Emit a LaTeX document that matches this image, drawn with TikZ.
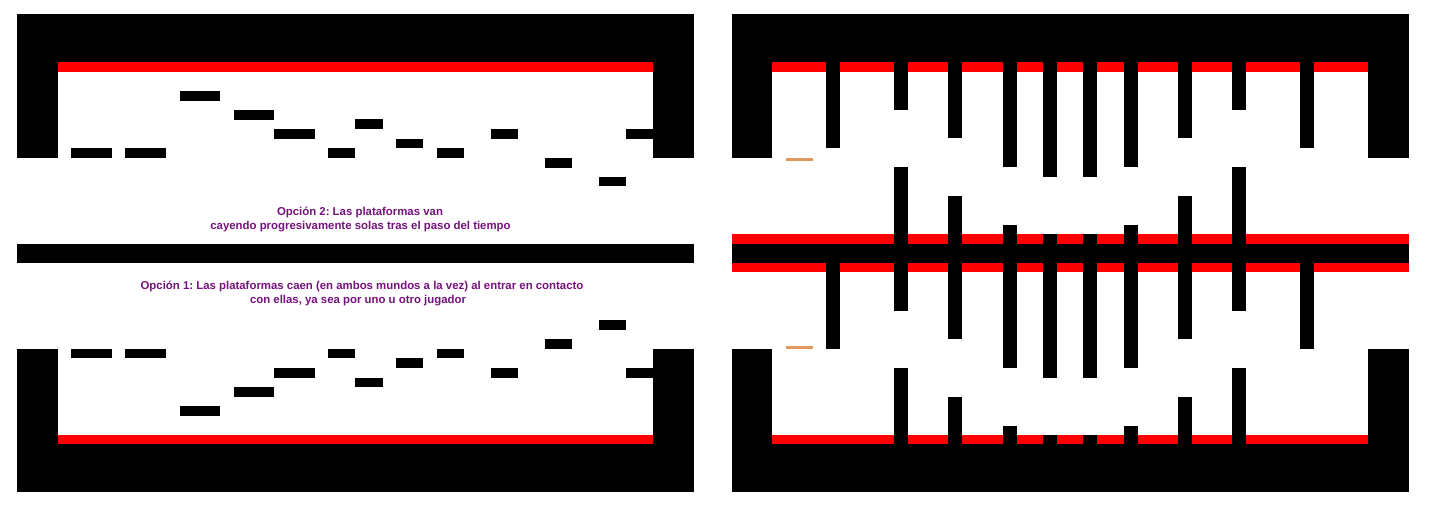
\documentclass[tikz,border=0pt]{standalone}
\usepackage{fontspec}
\setmainfont{Liberation Sans}
\frenchspacing
\definecolor{lblred}{RGB}{255,0,0}
\definecolor{txtpurple}{RGB}{118,18,126}
\definecolor{dashorange}{RGB}{224,153,90}
\tikzset{
  wall/.style={fill=black},
  redline/.style={fill=lblred},
  caption/.style={text=txtpurple, font=\fontsize{11.4}{14}\selectfont\bfseries, inner sep=0pt, anchor=base},
  marker/.style={fill=dashorange}
}
\begin{document}
\begin{tikzpicture}[x=1pt,y=-1pt]
\useasboundingbox (0,0) rectangle (1430,508);
\fill[white] (0,0) rectangle (1430,508);
% ================= LEFT: top panel =================
\fill[wall] (17,14) rectangle (694,62);
\fill[wall] (17,14) rectangle (58,158);
\fill[wall] (653,14) rectangle (694,158);
\fill[redline] (58,62) rectangle (653,72);
% platforms top
\foreach \xa/\xb/\ya/\yb in {71/112/148/158, 125/166/148/158, 180/220/91/101, 234/274/110/120,
  274/315/129/139, 328/355/148/158, 355/383/119/129, 396/423/139/148, 437/464/148/158,
  491/518/129/139, 545/572/158/168, 599/626/177/186, 626/653/129/139}
  \fill[wall] (\xa,\ya) rectangle (\xb,\yb);
% middle bar
\fill[wall] (17,244) rectangle (694,263);
% captions
\node[caption] (t2a) at (360,215) {Opción 2: Las plataformas van};
\node[caption] (t2b) at (360.5,229) {cayendo progresivamente solas tras el paso del tiempo};
\node[caption] (t1a) at (362,289) {Opción 1: Las plataformas caen (en ambos mundos a la vez) al entrar en contacto};
\node[caption] (t1b) at (358,303) {con ellas, ya sea por uno u otro jugador};
% ================= LEFT: bottom panel =================
\fill[wall] (17,444) rectangle (694,492);
\fill[wall] (17,349) rectangle (58,492);
\fill[wall] (653,349) rectangle (694,492);
\fill[redline] (58,435) rectangle (653,444);
\foreach \xa/\xb/\ya/\yb in {71/112/349/358, 125/166/349/358, 180/220/406/416, 234/274/387/397,
  274/315/368/378, 328/355/349/358, 355/383/378/387, 396/423/358/368, 437/464/349/358,
  491/518/368/378, 545/572/339/349, 599/626/320/330, 626/653/368/378}
  \fill[wall] (\xa,\ya) rectangle (\xb,\yb);
% ================= RIGHT panel =================
% top
\fill[wall] (732,14) rectangle (1409,62);
\fill[wall] (732,14) rectangle (772,158);
\fill[wall] (1368,14) rectangle (1409,158);
\fill[redline] (772,62) rectangle (1368,72);
% middle
\fill[redline] (732,234) rectangle (1409,244);
\fill[wall] (732,244) rectangle (1409,263);
\fill[redline] (732,263) rectangle (1409,272);
% bottom
\fill[wall] (732,444) rectangle (1409,492);
\fill[wall] (732,349) rectangle (772,492);
\fill[wall] (1368,349) rectangle (1409,492);
\fill[redline] (772,435) rectangle (1368,444);
% columns: x-left / hanging end / rising start (top panel), shifted by 201 for bottom panel
\foreach \xa/\hang/\rise in {826/148/244, 894/110/167, 948/138/196, 1003/167/225, 1043/177/234,
  1083/177/234, 1124/167/225, 1178/138/196, 1232/110/167, 1300/148/244}{
  \fill[wall] (\xa,62) rectangle (\xa+14,\hang);
  \fill[wall] (\xa,\rise) rectangle (\xa+14,244);
  \fill[wall] (\xa,263) rectangle (\xa+14,\hang+201);
  \fill[wall] (\xa,\rise+201) rectangle (\xa+14,444);
}
% orange markers
\fill[marker] (786,158) rectangle (813,161);
\fill[marker] (786,346) rectangle (813,349);
\end{tikzpicture}
\end{document}
